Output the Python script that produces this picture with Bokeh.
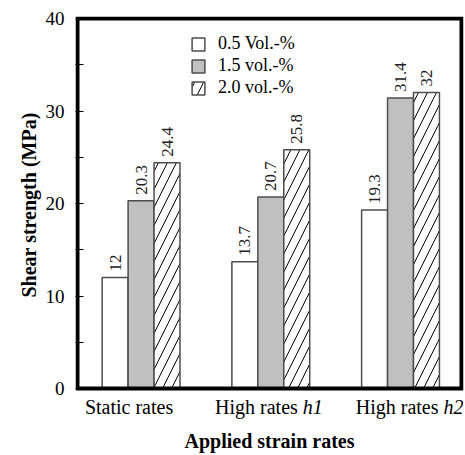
import math
from bokeh.plotting import figure
from bokeh.models import Range1d, FixedTicker, ColumnDataSource, Title
from bokeh.core.properties import value
from bokeh.embed import file_html
from bokeh.resources import INLINE

# ---- data ----
cat_main = ["Static rates", "High rates", "High rates"]
cat_sub = ["", "h1", "h2"]
series_names = ["0.5 Vol.-%", "1.5 vol.-%", "2.0 vol.-%"]
vals_05 = [12.0, 13.7, 19.3]
vals_15 = [20.3, 20.7, 31.4]
vals_20 = [24.4, 25.8, 32.0]
y_ticks = [0, 10, 20, 30, 40]
y_minor = [5, 15, 25, 35]
y_label = "Shear strength (MPa)"
x_label = "Applied strain rates"

FONT = "Liberation Serif"
cat_pos = list(range(len(cat_main)))
bar_w = 0.2

# ---- layout (pixels) ----
W, H = 465, 455
box_l_px, box_r_px, box_t_px, box_b_px = 77, 461, 18, 388
pad = 2
box_x = (-0.49, 2.47)
box_y = (y_ticks[0], y_ticks[-1])
kx = (box_r_px - box_l_px) / (box_x[1] - box_x[0])
ky = (box_b_px - box_t_px) / (box_y[1] - box_y[0])
x_rng = Range1d(box_x[0] - pad / kx, box_x[1] + pad / kx)
y_rng = Range1d(box_y[0] - (H - box_b_px) / ky, box_y[1] + pad / ky)

p = figure(width=W, height=H, output_backend="svg", toolbar_location=None,
           x_range=x_rng, y_range=y_rng,
           min_border_left=box_l_px - pad, min_border_right=W - box_r_px - pad,
           min_border_top=box_t_px - pad, min_border_bottom=0)
p.background_fill_color = "white"
p.border_fill_color = "white"
p.outline_line_color = None
p.xgrid.visible = False
p.ygrid.visible = False
p.xaxis.visible = False

ya = p.yaxis[0]
ya.ticker = FixedTicker(ticks=y_ticks, minor_ticks=y_minor)
ya.axis_line_color = None
ya.major_tick_in = 8
ya.major_tick_out = 0
ya.minor_tick_in = 8
ya.minor_tick_out = 0
ya.major_tick_line_color = "black"
ya.minor_tick_line_color = "black"
ya.major_label_text_font = FONT
ya.major_label_text_font_size = "19px"
ya.major_label_text_color = "black"
ya.major_label_standoff = 11

# y axis title: starts (bottom end) at a fixed distance above the frame bottom
p.add_layout(Title(text=y_label, align="left", offset=158, standoff=6,
                   text_font=FONT, text_font_size="20px", text_font_style="bold",
                   text_color="black"), "left")

styles = [
    dict(fill_color="white"),
    dict(fill_color="#c0c0c0"),
    dict(fill_color="white", hatch_pattern="/", hatch_scale=18, hatch_color="black", hatch_weight=1),
]
all_vals = [vals_05, vals_15, vals_20]
for i, (vals, name, st) in enumerate(zip(all_vals, series_names, styles)):
    xs = [c + (i - 1) * bar_w for c in cat_pos]
    src = ColumnDataSource(dict(x=xs, top=vals, lab=[f"{v:g}" for v in vals]))
    p.vbar(x="x", top="top", bottom=0, width=bar_w, source=src,
           line_color="#4d4d4d", line_width=1.5, legend_label=name, **st)
    p.text(x="x", y="top", text="lab", source=src, angle=math.pi / 2,
           text_align="left", text_baseline="middle", y_offset=-6,
           text_font_size="17px", text_color="#222222", text_font=value(FONT))

# plot box
p.quad(left=[box_x[0]], right=[box_x[1]], bottom=[box_y[0]], top=[box_y[1]],
       fill_color=None, line_color="black", line_width=4, line_join="miter")

lg = p.legend[0]
lg.location = (115, 357)
lg.border_line_color = None
lg.background_fill_alpha = 0
lg.padding = 0
lg.margin = 0
lg.spacing = 1
lg.glyph_width = 16
lg.glyph_height = 16
lg.label_standoff = 12
lg.label_text_font = FONT
lg.label_text_font_size = "18px"
lg.label_text_color = "black"

# category labels (main text + italic suffix)
shifts = [-12, 32, 43]
lab_off = 18
main_src = ColumnDataSource(dict(
    x=cat_pos, t=cat_main,
    xo=[s - 5 if sub else s for s, sub in zip(shifts, cat_sub)],
    al=["right" if sub else "center" for sub in cat_sub]))
p.text(x="x", y=0, text="t", source=main_src, x_offset="xo", y_offset=lab_off,
       text_align="al", text_baseline="alphabetic",
       text_font=value(FONT), text_font_size="20px", text_color="black")
sub_idx = [k for k, s in enumerate(cat_sub) if s]
sub_src = ColumnDataSource(dict(
    x=[cat_pos[k] for k in sub_idx], t=[cat_sub[k] for k in sub_idx],
    xo=[shifts[k] for k in sub_idx]))
p.text(x="x", y=0, text="t", source=sub_src, x_offset="xo", y_offset=lab_off,
       text_align="left", text_baseline="alphabetic",
       text_font=value(FONT), text_font_size="20px", text_font_style="italic",
       text_color="black")

p.text(x=[(box_x[0] + box_x[1]) / 2], y=[0], text=[x_label], y_offset=52,
       text_align="center", text_baseline="alphabetic",
       text_font=value(FONT), text_font_size="20px", text_font_style="bold",
       text_color="black")

open("out.html", "w").write(file_html(p, INLINE))
